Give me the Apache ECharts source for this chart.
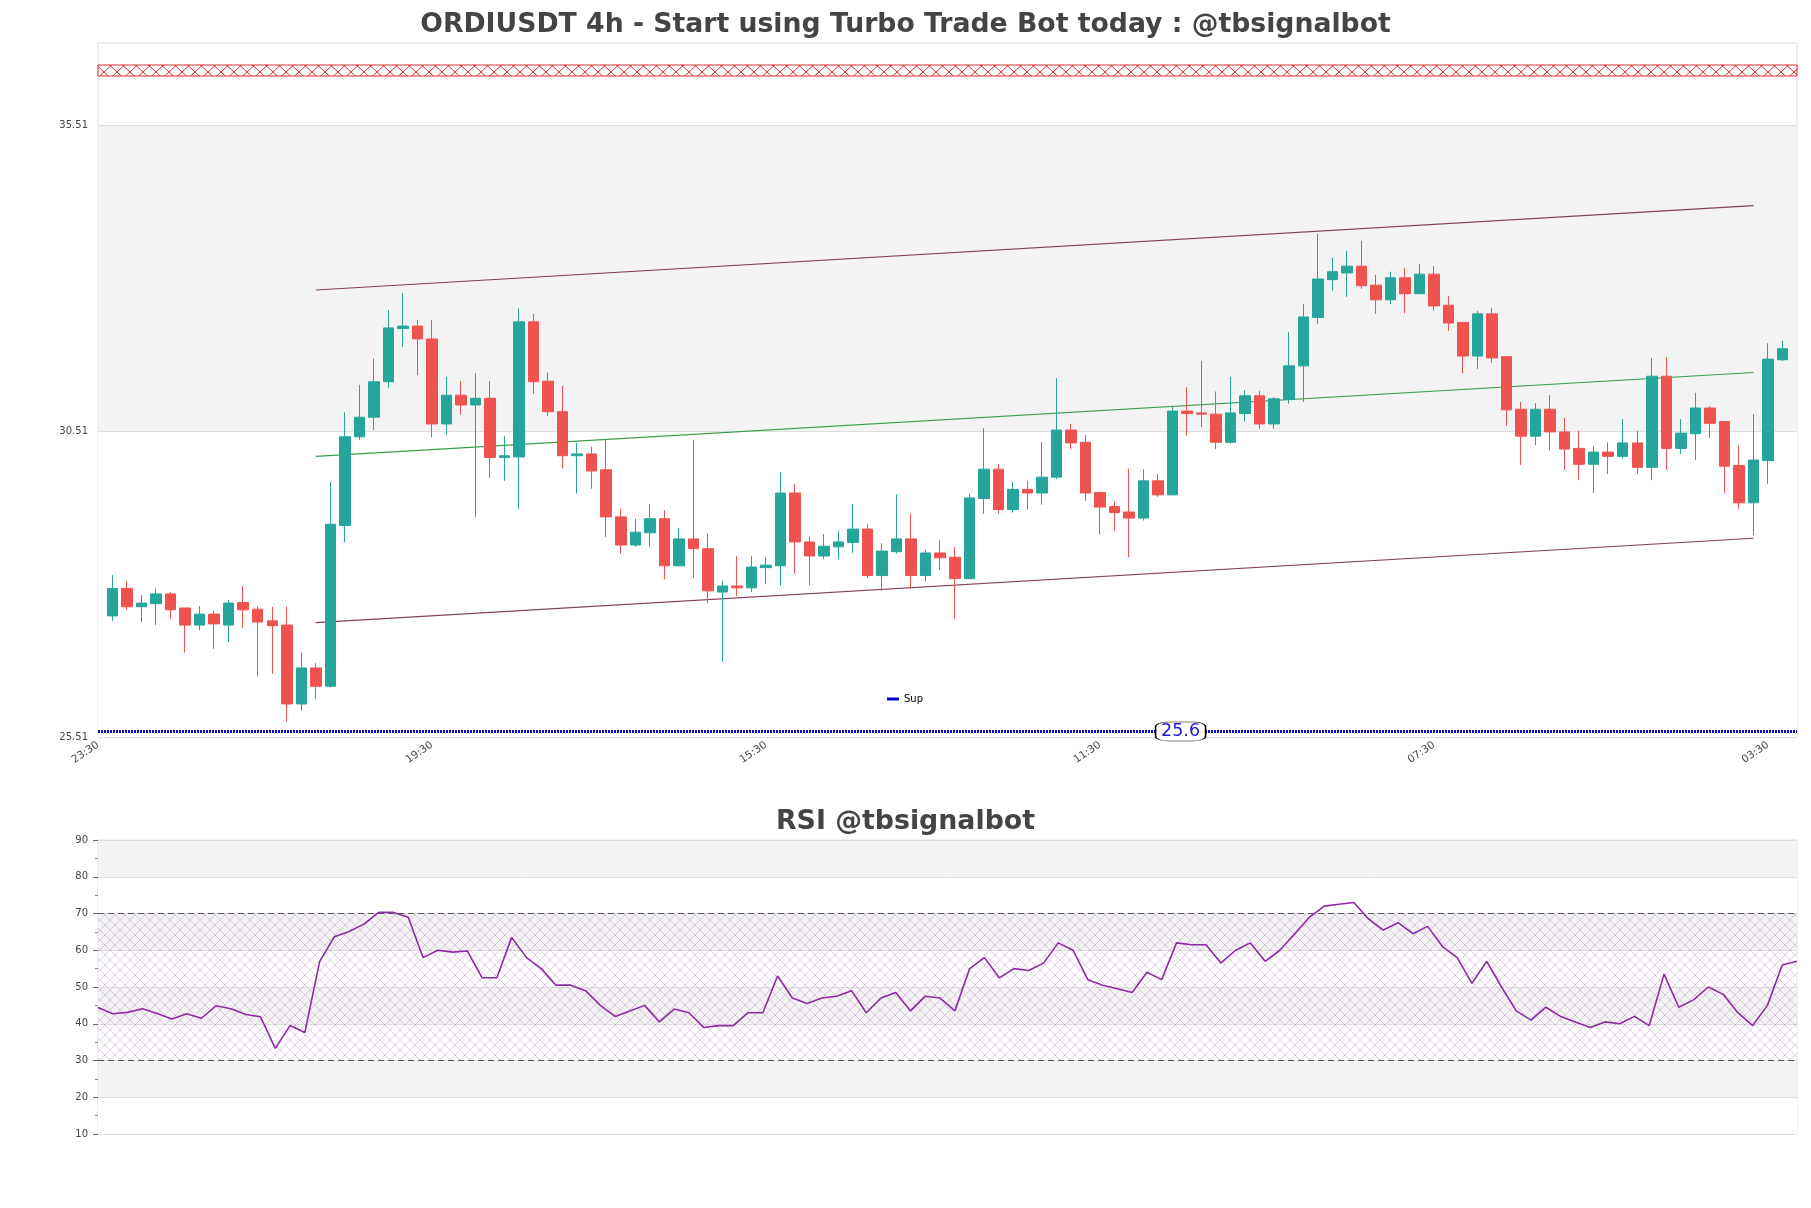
<!DOCTYPE html>
<html><head><meta charset="utf-8">
<script src="https://cdn.jsdelivr.net/npm/echarts@6/dist/echarts.min.js"></script>
<style>html,body{margin:0;padding:0;background:#fff}#c{width:1811px;height:1208px}</style>
</head><body><div id="c"></div>
<script>
// ---------- data ----------
const tickLabels = ['23:30', '19:30', '15:30', '11:30', '07:30', '03:30'];
const priceTicks = [25.51, 30.51, 35.51];
const opens = [27.49,27.94,27.64,27.69,27.85,27.62,27.34,27.52,27.34,27.71,27.60,27.41,27.34,26.05,26.64,26.34,28.97,30.42,30.74,31.32,
32.19,32.23,32.02,30.63,31.10,30.94,31.05,30.08,30.09,32.30,31.33,30.83,30.11,30.14,29.88,29.11,28.65,28.85,29.08,28.31,
28.75,28.59,27.88,27.98,27.95,28.28,28.31,29.50,28.70,28.47,28.62,28.69,28.91,28.15,28.54,28.75,28.15,28.52,28.45,28.10,
29.41,29.89,29.23,29.56,29.50,29.76,30.53,30.33,29.51,29.28,29.19,29.09,29.70,29.47,30.84,30.81,30.79,30.33,30.80,31.09,
30.63,31.03,31.58,32.37,32.99,33.10,33.21,32.90,32.66,33.02,32.76,33.08,32.57,32.29,31.74,32.43,31.73,30.87,30.43,30.87,
30.50,30.23,29.97,30.17,30.10,30.32,29.92,31.41,30.23,30.47,30.89,30.67,29.95,29.34,30.03,31.68];
const closes = [27.94,27.64,27.70,27.85,27.59,27.34,27.52,27.36,27.70,27.59,27.39,27.33,26.05,26.64,26.34,28.99,30.42,30.74,31.32,32.20,
32.23,32.02,30.63,31.10,30.94,31.05,30.08,30.11,32.30,31.32,30.83,30.11,30.14,29.86,29.11,28.65,28.86,29.08,28.31,28.75,
28.59,27.90,27.98,27.95,28.29,28.32,29.50,28.70,28.47,28.63,28.70,28.91,28.15,28.55,28.75,28.15,28.52,28.44,28.10,29.42,
29.89,29.23,29.56,29.50,29.76,30.53,30.32,29.50,29.27,29.18,29.09,29.70,29.47,30.84,30.80,30.79,30.33,30.81,31.09,30.63,
31.04,31.58,32.38,33.00,33.12,33.21,32.89,32.66,33.02,32.76,33.08,32.56,32.28,31.74,32.43,31.71,30.86,30.43,30.87,30.50,
30.22,29.97,30.17,30.10,30.32,29.92,31.41,30.23,30.48,30.89,30.64,29.94,29.34,30.04,31.69,31.86];
const lows = [27.41,27.59,27.39,27.34,27.44,26.89,27.26,26.95,27.06,27.29,26.50,26.54,25.76,25.94,26.13,26.32,28.70,30.37,30.53,31.22,
31.89,31.43,30.41,30.45,30.78,29.11,29.75,29.70,29.24,31.12,30.76,29.90,29.49,29.57,28.78,28.51,28.62,28.62,28.09,28.30,
28.11,27.70,26.74,27.82,27.88,28.01,27.99,28.18,27.99,28.42,28.42,28.52,28.11,27.90,28.51,27.94,28.05,28.24,27.44,28.09,
29.16,29.16,29.18,29.23,29.31,29.73,30.22,29.37,28.82,28.88,28.45,29.05,29.44,29.47,30.44,30.58,30.22,30.31,30.67,30.55,
30.55,30.96,30.99,32.26,32.81,32.71,32.84,32.43,32.59,32.44,32.76,32.48,32.15,31.46,31.53,31.63,30.60,29.96,30.28,30.20,
29.88,29.71,29.50,29.81,30.06,29.81,29.71,29.88,30.14,30.04,30.40,29.50,29.24,28.81,29.65,31.66];
const highs = [28.16,28.06,27.83,27.94,27.88,27.62,27.65,27.57,27.75,27.98,27.65,27.64,27.64,26.89,26.72,29.68,30.82,31.27,31.70,32.49,
32.77,32.33,32.33,31.40,31.33,31.46,31.33,30.43,32.52,32.43,31.47,31.25,30.32,30.26,30.37,29.24,29.08,29.32,29.22,28.93,
30.37,28.84,28.06,28.47,28.47,28.45,29.84,29.65,28.79,28.83,28.88,29.32,28.99,28.68,29.48,29.17,28.57,28.73,28.62,29.49,
30.56,29.97,29.68,29.70,30.33,31.38,30.63,30.45,29.51,29.36,29.90,29.89,29.81,30.91,31.23,31.66,31.16,31.40,31.18,31.17,
31.07,32.13,32.59,33.74,33.35,33.46,33.62,33.07,33.12,33.18,33.25,33.21,32.72,32.29,32.48,32.53,31.74,30.99,30.97,31.10,
30.73,30.52,30.27,30.33,30.71,30.52,31.71,31.72,30.71,31.14,30.92,30.67,30.28,30.79,31.95,31.99];
const rsi = [44.4,42.7,43.1,44.1,42.8,41.3,42.7,41.5,44.9,44.1,42.5,41.9,33.3,39.5,37.6,56.9,63.7,65.1,67.1,70.3,
70.3,69.0,58.0,60.0,59.5,59.8,52.5,52.5,63.5,58.0,55.0,50.5,50.5,49.0,45.0,42.0,43.5,45.0,40.5,44.0,
43.0,39.0,39.5,39.5,43.0,43.0,53.0,47.0,45.5,47.0,47.5,49.0,43.0,47.0,48.5,43.5,47.5,47.0,43.5,55.0,
58.0,52.5,55.0,54.5,56.5,62.0,60.0,52.0,50.5,49.5,48.5,54.0,52.0,62.0,61.5,61.5,56.5,60.0,62.0,57.0,
60.0,64.5,69.0,72.0,72.5,73.0,68.5,65.5,67.5,64.5,66.5,61.0,58.0,51.0,57.0,50.0,43.5,41.0,44.5,42.0,
40.5,39.0,40.5,40.0,42.0,39.5,53.5,44.5,46.5,50.0,48.0,43.0,39.5,45.0,56.0,57.0];
const supLevel = 25.6;
const supLabelIndex = 74;
const resZone = [36.32, 36.50];
const trendX = [15, 114];
const upperY = [32.82, 34.20];
const midY = [30.10, 31.47];
const lowerY = [27.38, 28.76];
const rsiLevels = [30, 70];

// ---------- helpers ----------
const LABEL_STEP = 23;
const slotCount = opens.length + 2;
const mainCats = Array.from({length: slotCount}, (_, i) => String(i));
const rsiCats = rsi.map((_, i) => String(i));
const candleData = ['-'].concat(opens.map((o, i) => [o, closes[i], lows[i], highs[i]])).concat(['-']);

function hatch(w, h, color, lw) {
  const c = document.createElement('canvas');
  c.width = w; c.height = h;
  const g = c.getContext('2d');
  g.strokeStyle = color; g.lineWidth = lw;
  g.beginPath();
  g.moveTo(0, 0); g.lineTo(w, h);
  g.moveTo(w, 0); g.lineTo(0, h);
  g.stroke();
  return c;
}
const redHatch = hatch(13, 12, '#d9302c', 1);
const purpleHatch = hatch(10, 10, 'rgba(175,130,195,0.38)', 1);

const font = 'DejaVu Sans';
const chart = echarts.init(document.getElementById('c'), null, {renderer: 'canvas'});
function trend(name, ys, color) {
  return {
    name, type: 'line', xAxisIndex: 0, yAxisIndex: 0, z: 2, silent: true,
    showSymbol: false, symbol: 'none',
    lineStyle: {color, width: 1.1},
    data: [[trendX[0], ys[0]], [trendX[1], ys[1]]]
  };
}

chart.setOption({
  animation: false,
  backgroundColor: '#fff',
  title: [
    {text: 'ORDIUSDT 4h - Start using Turbo Trade Bot today : @tbsignalbot', left: 'center', top: 7,
     textStyle: {fontFamily: font, fontWeight: 'bold', fontSize: 26.7, color: '#444'}},
    {text: 'RSI @tbsignalbot', left: 'center', top: 804,
     textStyle: {fontFamily: font, fontWeight: 'bold', fontSize: 26.8, color: '#444'}}
  ],
  legend: {
    data: ['Sup'], left: 882, top: 689, icon: 'rect', itemWidth: 12, itemHeight: 3, itemGap: 6,
    textStyle: {fontFamily: font, fontSize: 10, color: '#000'}
  },
  grid: [
    {left: 98, top: 43, width: 1699, height: 694, show: true, borderColor: '#ddd', borderWidth: 1},
    {left: 98, top: 840, width: 1699, height: 294, show: true, borderColor: '#ddd', borderWidth: 1}
  ],
  xAxis: [
    {type: 'category', gridIndex: 0, data: mainCats, boundaryGap: false,
     axisLine: {show: false}, axisTick: {show: false}, splitLine: {show: false},
     axisLabel: {interval: LABEL_STEP - 1, rotate: 34, margin: 7, fontFamily: font, fontSize: 10.5, color: '#444',
       formatter: (v, idx) => (idx % LABEL_STEP === 0 ? tickLabels[idx / LABEL_STEP] : '')}},
    {type: 'category', gridIndex: 1, data: rsiCats, boundaryGap: false,
     axisLine: {show: false}, axisTick: {show: false}, axisLabel: {show: false}, splitLine: {show: false}}
  ],
  yAxis: [
    {type: 'value', gridIndex: 0, min: 25.51, max: 36.86, scale: true,
     axisLine: {show: false},
     axisTick: {show: false, customValues: priceTicks},
     axisLabel: {customValues: priceTicks, margin: 10, fontFamily: font, fontSize: 10, color: '#444',
       formatter: v => v.toFixed(2)},
     splitLine: {show: true, lineStyle: {color: '#ddd', width: 1}},
     splitArea: {show: true, areaStyle: {color: ['#ffffff', '#f3f3f3']}}},
    {type: 'value', gridIndex: 1, min: 10, max: 90, interval: 10,
     axisLine: {show: false},
     axisTick: {show: true, length: 5, lineStyle: {color: '#666'}},
     minorTick: {show: true, splitNumber: 2, length: 3, lineStyle: {color: '#888'}},
     axisLabel: {margin: 10, fontFamily: font, fontSize: 10, color: '#444'},
     splitLine: {show: true, lineStyle: {color: '#ddd', width: 1}},
     splitArea: {show: true, areaStyle: {color: ['#ffffff', '#f3f3f3']}}}
  ],
  series: [
    trend('upper', upperY, '#83405a'),
    trend('mid', midY, '#3a9a48'),
    trend('lower', lowerY, '#83405a'),
    {
      name: 'candles', type: 'candlestick', xAxisIndex: 0, yAxisIndex: 0, z: 5,
      barWidth: 11,
      data: candleData,
      itemStyle: {color: '#26a69a', color0: '#ef5350', borderColor: '#26a69a', borderColor0: '#ef5350', borderWidth: 1},
      markArea: {silent: true, z: 1,
        itemStyle: {color: {image: redHatch, repeat: 'repeat'}, borderColor: '#d9302c', borderWidth: 1},
        data: [[{yAxis: resZone[0]}, {yAxis: resZone[1]}]]}
    },
    {
      name: 'Sup', type: 'line', xAxisIndex: 0, yAxisIndex: 0, z: 6, color: '#0000cc',
      data: [],
      markLine: {silent: true, symbol: 'none', label: {show: false},
        lineStyle: {color: '#0a0ac0', type: [2, 1], width: 3},
        data: [{yAxis: supLevel}]},
      markPoint: {silent: true, symbol: 'roundRect', symbolSize: [50, 19], symbolOffset: [8, 0],
        itemStyle: {color: '#fff', borderColor: '#000', borderWidth: 1},
        label: {show: true, position: 'inside', formatter: String(supLevel), fontFamily: font, fontSize: 17.5, color: '#1a1ad0'},
        data: [{coord: [supLabelIndex, supLevel]}]}
    },
    {
      name: 'RSI', type: 'line', xAxisIndex: 1, yAxisIndex: 1, z: 5,
      showSymbol: false, symbol: 'none',
      lineStyle: {color: '#8e2aa6', width: 1.6},
      data: rsi,
      markArea: {silent: true, z: 1,
        itemStyle: {color: {image: purpleHatch, repeat: 'repeat'}},
        data: [[{yAxis: rsiLevels[0]}, {yAxis: rsiLevels[1]}]]},
      markLine: {silent: true, symbol: 'none', label: {show: false},
        lineStyle: {color: '#555', type: [6, 4], width: 1.2},
        data: rsiLevels.map(v => ({yAxis: v}))}
    }
  ]
});
</script></body></html>
